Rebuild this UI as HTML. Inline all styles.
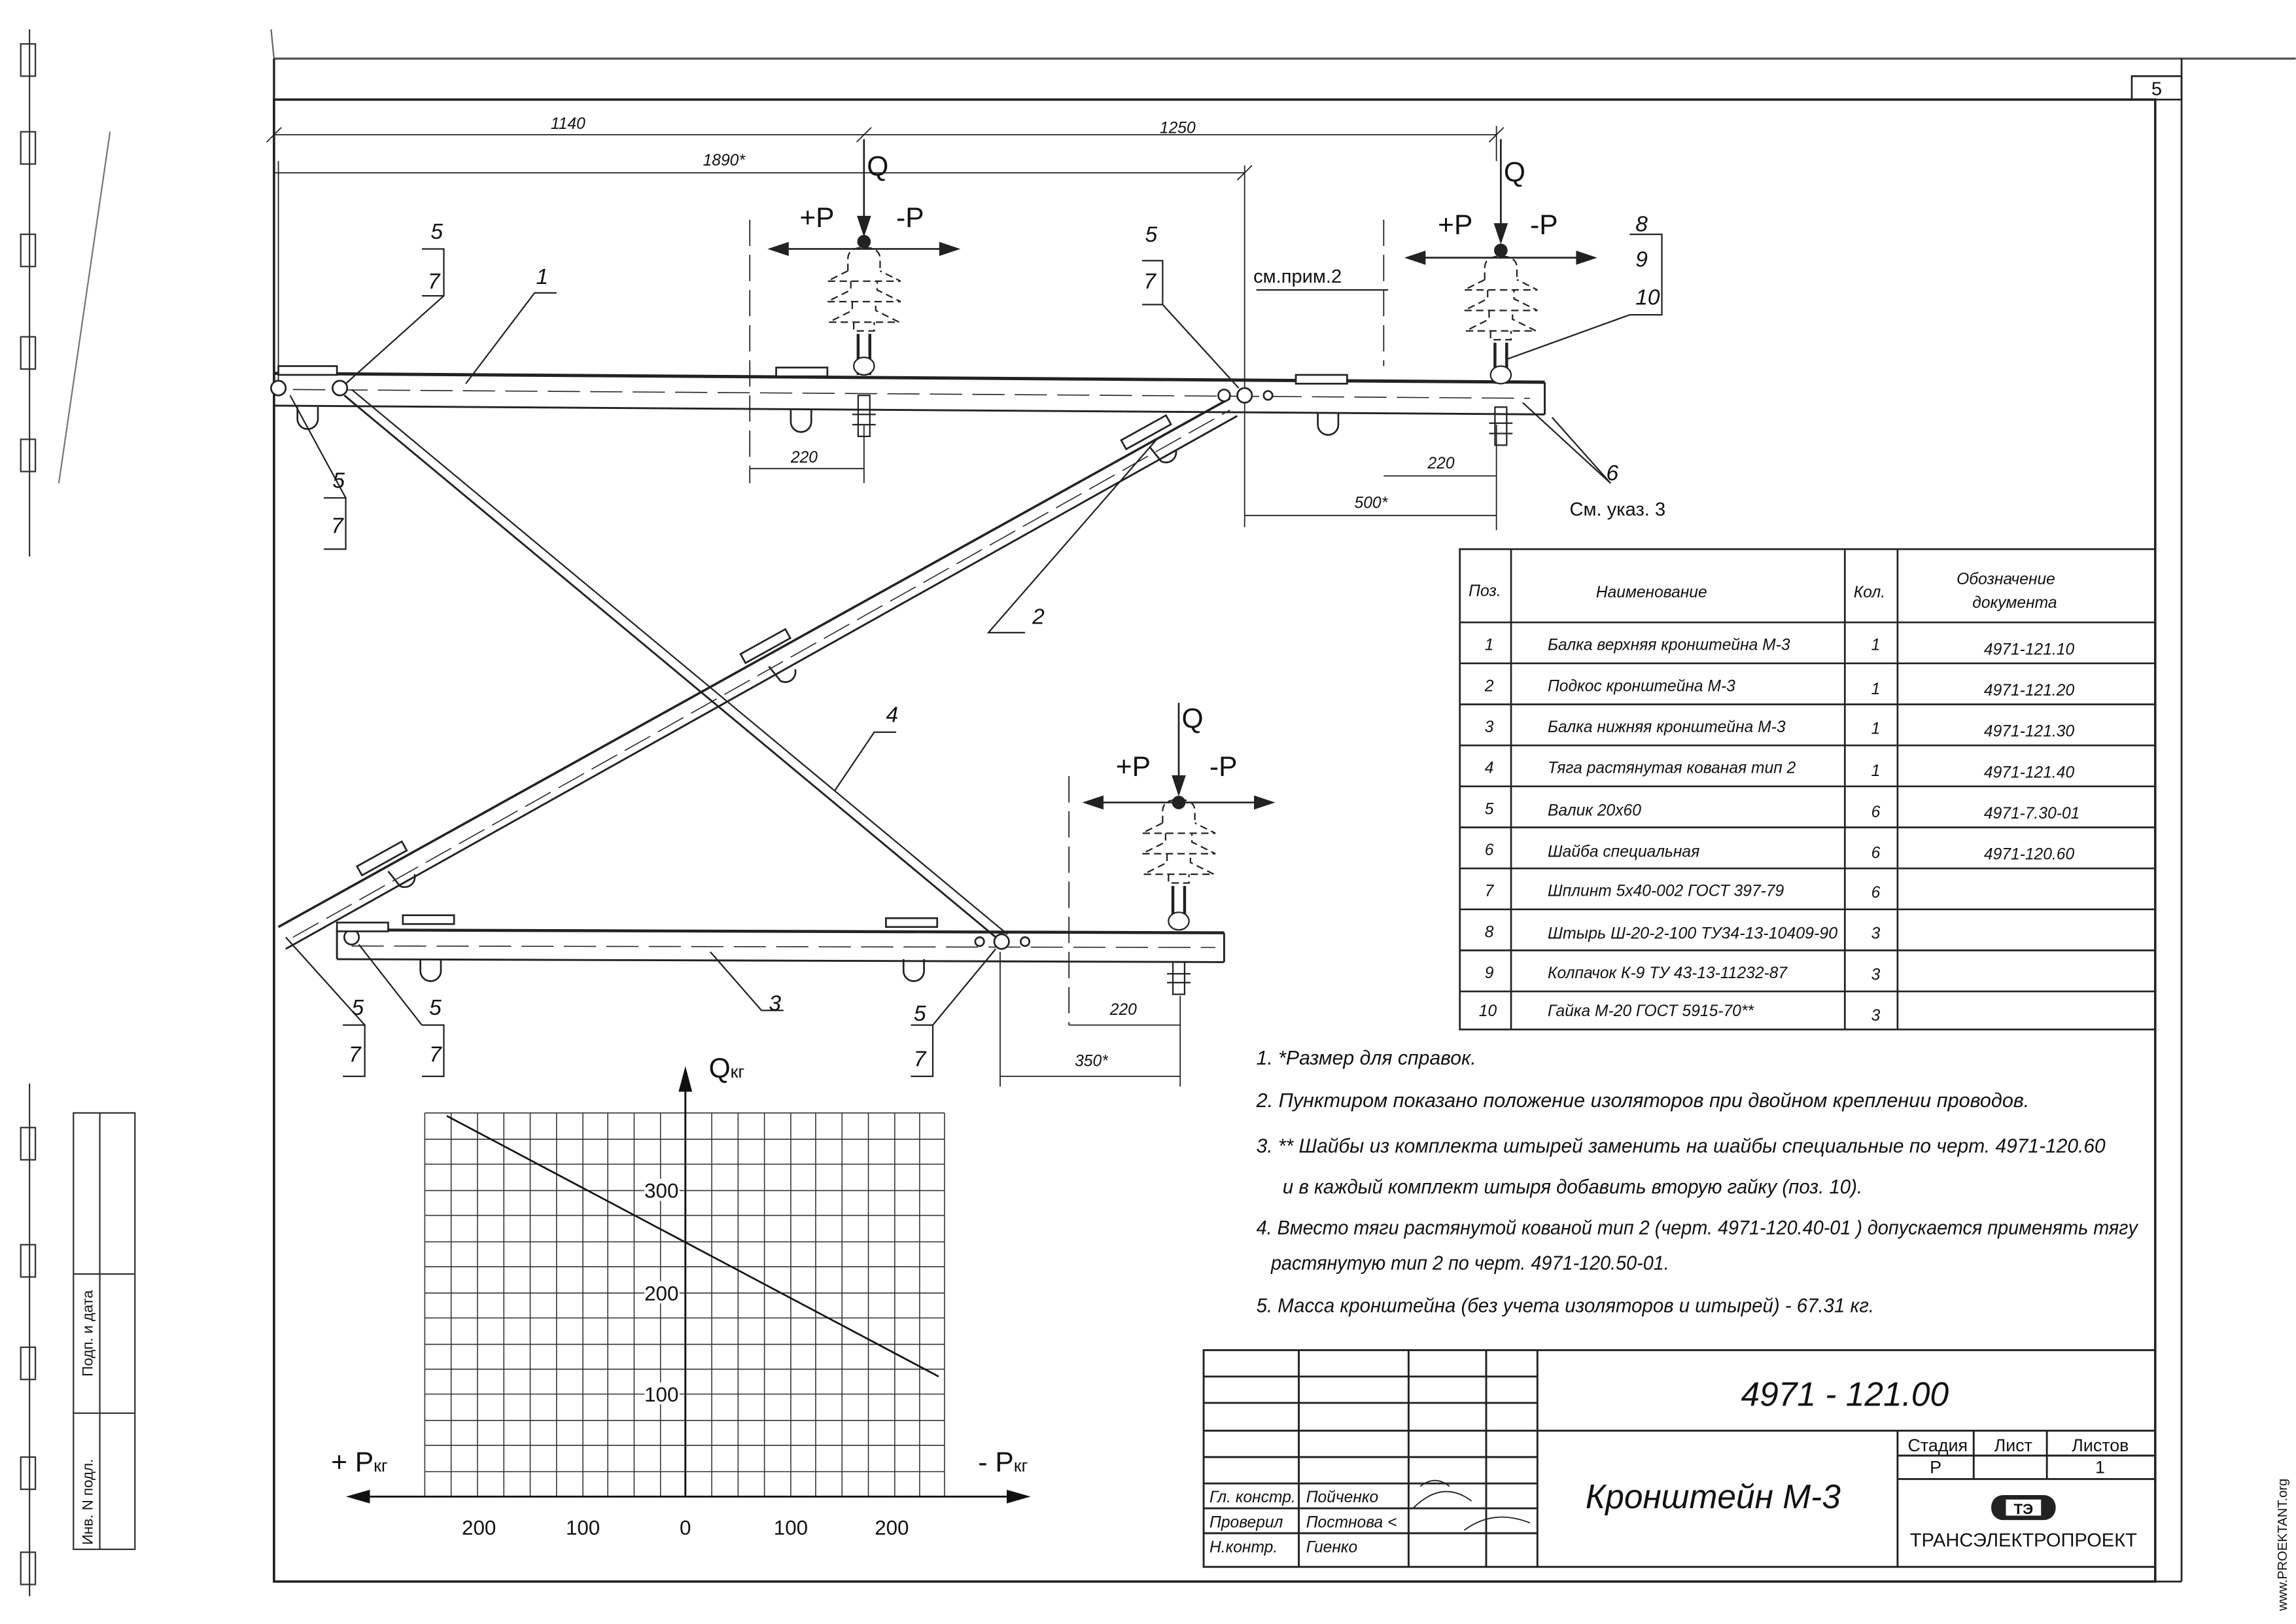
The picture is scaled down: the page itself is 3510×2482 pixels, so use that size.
<!DOCTYPE html>
<html><head><meta charset="utf-8"><style>
html,body{margin:0;padding:0;background:#fff;}
svg{display:block;}
text{font-family:"Liberation Sans",sans-serif;fill:#111;}
</style></head><body>
<svg width="3510" height="2482" viewBox="0 0 1568 1109" xmlns="http://www.w3.org/2000/svg">
<defs>
<g id="insul" stroke="#222" fill="none" stroke-width="1">
<path d="M-11 185 v-8 q0 -8 11 -8 q11 0 11 8 v8 M-11 185 l-14 7 h50 l-14 -7 M-9 192 v6 l-16 8 h50 l-16 -8 v-6 M-8 206 v6 l-16 8 h48 l-16 -8 v-6 M-7 220 v6 h14 v-6" stroke-dasharray="5 3"/>
</g>
</defs>
<rect width="1568" height="1109" fill="#fff"/>
<g stroke="#222" fill="none">
<line x1="187" y1="40" x2="1568" y2="40" stroke-width="1.5" stroke="#555"/>
<rect x="187" y="68" width="1285" height="1012" stroke-width="1.6"/>
<line x1="187" y1="40" x2="187" y2="1080" stroke-width="1.5"/>
<line x1="1490" y1="40" x2="1490" y2="1080" stroke-width="1.2"/>
<line x1="1472" y1="1080" x2="1490" y2="1080" stroke-width="1.2"/>
<rect x="1456" y="52" width="34" height="16" stroke-width="1.2"/>
</g>
<text x="1473" y="65" font-size="13" text-anchor="middle">5</text>
<g stroke="#333" fill="none" stroke-width="1">
<line x1="20" y1="20" x2="20" y2="380"/><line x1="20" y1="740" x2="20" y2="1090"/>
<rect x="14" y="30" width="10" height="22"/><rect x="14" y="90" width="10" height="22"/><rect x="14" y="160" width="10" height="22"/><rect x="14" y="230" width="10" height="22"/><rect x="14" y="300" width="10" height="22"/>
<rect x="14" y="770" width="10" height="22"/><rect x="14" y="850" width="10" height="22"/><rect x="14" y="920" width="10" height="22"/><rect x="14" y="995" width="10" height="22"/><rect x="14" y="1060" width="10" height="22"/>
<rect x="50" y="760" width="42" height="298"/>
<line x1="68" y1="760" x2="68" y2="1058"/>
<line x1="50" y1="870" x2="92" y2="870"/><line x1="50" y1="965" x2="92" y2="965"/>
<line x1="185" y1="20" x2="187" y2="40" stroke="#666"/>
<line x1="40" y1="330" x2="75" y2="90" stroke="#777"/>
</g>
<text transform="translate(63,940) rotate(-90)" font-size="10">Подп. и дата</text>
<text transform="translate(63,1055) rotate(-90)" font-size="10">Инв. N подл.</text>
<text transform="translate(1562,1100) rotate(-90)" font-size="9" fill="#777">www.PROEKTANT.org</text>

<g stroke="#222" stroke-width="0.8" fill="none">
<line x1="187" y1="92" x2="1022" y2="92"/>
<line x1="187" y1="118" x2="850" y2="118"/>
<line x1="585" y1="97" x2="595" y2="87"/><line x1="1017" y1="97" x2="1027" y2="87"/>
<line x1="845" y1="123" x2="855" y2="113"/><line x1="182" y1="97" x2="192" y2="87"/>
<line x1="1022" y1="86" x2="1022" y2="110"/>
<line x1="850" y1="113" x2="850" y2="360"/>
<line x1="190" y1="110" x2="190" y2="260"/>
<line x1="512" y1="150" x2="512" y2="330" stroke-dasharray="18 6"/>
<line x1="945" y1="150" x2="945" y2="250" stroke-dasharray="18 6"/>
<line x1="730" y1="530" x2="730" y2="700" stroke-dasharray="18 6"/>
<line x1="512" y1="320" x2="590" y2="320"/><line x1="590" y1="290" x2="590" y2="330"/>
<line x1="945" y1="325" x2="1022" y2="325"/><line x1="1022" y1="290" x2="1022" y2="362"/>
<line x1="850" y1="352" x2="1022" y2="352"/>
<line x1="730" y1="700" x2="806" y2="700"/><line x1="806" y1="680" x2="806" y2="742"/>
<line x1="683" y1="735" x2="806" y2="735"/><line x1="683" y1="650" x2="683" y2="742"/>
</g>
<g font-size="11" font-style="italic">
<text x="376" y="88">1140</text>
<text x="792" y="91">1250</text>
<text x="480" y="113">1890*</text>
<text x="540" y="316">220</text>
<text x="975" y="320">220</text>
<text x="925" y="347">500*</text>
<text x="758" y="693">220</text>
<text x="734" y="728">350*</text>
</g>

<g stroke="#222" fill="none">
<line x1="190" y1="633" x2="840" y2="272" stroke-width="1.6"/>
<line x1="195" y1="648" x2="845" y2="284" stroke-width="1.3"/>
<line x1="200" y1="640" x2="840" y2="280" stroke-width="0.7" stroke-dasharray="20 6"/>
<line x1="235" y1="270" x2="680" y2="640" stroke-width="1.3"/>
<line x1="240" y1="266" x2="688" y2="638" stroke-width="1"/>
</g>
<g stroke="#222" fill="none">
<line x1="187" y1="255" x2="1055" y2="261" stroke-width="2.2"/>
<line x1="187" y1="277" x2="1055" y2="283" stroke-width="1.3"/>
<line x1="1055" y1="261" x2="1055" y2="283" stroke-width="1.3"/>
<line x1="200" y1="266" x2="1045" y2="272" stroke-width="0.7" stroke-dasharray="22 7"/>
<line x1="230" y1="635" x2="836" y2="637" stroke-width="2"/>
<line x1="230" y1="655" x2="836" y2="657" stroke-width="1.3"/>
<line x1="836" y1="637" x2="836" y2="657" stroke-width="1.3"/>
<line x1="230" y1="635" x2="230" y2="655" stroke-width="1.3"/>
<line x1="240" y1="646" x2="830" y2="647" stroke-width="0.7" stroke-dasharray="22 7"/>
</g>
<g stroke="#222" fill="#fff" stroke-width="1.2">
<circle cx="190" cy="265" r="5"/><circle cx="232" cy="265" r="5"/>
<circle cx="836" cy="270" r="4"/><circle cx="850" cy="270" r="5"/><circle cx="866" cy="270" r="3"/>
<circle cx="240" cy="640" r="5"/><circle cx="669" cy="643" r="3"/><circle cx="684" cy="643" r="5"/><circle cx="700" cy="643" r="3"/>
<rect x="190" y="250" width="40" height="6"/><rect x="530" y="251" width="35" height="6"/><rect x="885" y="256" width="35" height="6"/>
<rect x="230" y="630" width="35" height="6"/><rect x="275" y="625" width="35" height="6"/><rect x="605" y="627" width="35" height="6"/>
<path d="M203 278 v8 a7 7 0 0 0 14 0 v-8" fill="none"/>
<path d="M540 280 v8 a7 7 0 0 0 14 0 v-8" fill="none"/>
<path d="M900 282 v8 a7 7 0 0 0 14 0 v-8" fill="none"/>
<path d="M287 655 v8 a7 7 0 0 0 14 0 v-8" fill="none"/>
<path d="M617 655 v8 a7 7 0 0 0 14 0 v-8" fill="none"/>
<path d="M785 305 l8 10 a7 7 0 0 0 10 -8" fill="none"/>
<path d="M525 455 l8 10 a7 7 0 0 0 10 -8" fill="none"/>
<path d="M265 595 l8 10 a7 7 0 0 0 10 -8" fill="none"/>
<rect x="765" y="292" width="35" height="7" transform="rotate(-29 782 295)"/>
<rect x="505" y="438" width="35" height="7" transform="rotate(-29 522 441)"/>
<rect x="243" y="583" width="35" height="7" transform="rotate(-29 260 586)"/>
</g>
<g stroke="#222" fill="none" stroke-width="1">
<g transform="translate(590,0)">
<use href="#insul"/>
<line x1="-4" y1="228" x2="-4" y2="256" stroke-width="2"/><line x1="4" y1="228" x2="4" y2="256" stroke-width="2"/>
<ellipse cx="0" cy="250" rx="7" ry="6" fill="#fff"/>
<rect x="-4" y="270" width="8" height="28"/>
<line x1="-8" y1="283" x2="8" y2="283"/><line x1="-8" y1="290" x2="8" y2="290"/>
</g>
<g transform="translate(1025,6)">
<use href="#insul"/>
<line x1="-4" y1="228" x2="-4" y2="256" stroke-width="2"/><line x1="4" y1="228" x2="4" y2="256" stroke-width="2"/>
<ellipse cx="0" cy="250" rx="7" ry="6" fill="#fff"/>
<rect x="-4" y="272" width="8" height="26"/>
<line x1="-8" y1="283" x2="8" y2="283"/><line x1="-8" y1="290" x2="8" y2="290"/>
</g>
<g transform="translate(805,377)">
<use href="#insul"/>
<line x1="-4" y1="228" x2="-4" y2="256" stroke-width="2"/><line x1="4" y1="228" x2="4" y2="256" stroke-width="2"/>
<ellipse cx="0" cy="252" rx="7" ry="6" fill="#fff"/>
<rect x="-4" y="280" width="8" height="22"/>
<line x1="-8" y1="288" x2="8" y2="288"/><line x1="-8" y1="294" x2="8" y2="294"/>
</g>
</g>
<g stroke="#222" stroke-width="1.2" fill="#222">
<line x1="590" y1="95" x2="590" y2="155"/><path d="M586 148 L590 160 L594 148 Z"/>
<line x1="530" y1="170" x2="650" y2="170"/><path d="M538 166 L526 170 L538 174 Z"/><path d="M642 166 L654 170 L642 174 Z"/>
<circle cx="590" cy="165" r="4"/>
<line x1="1025" y1="95" x2="1025" y2="160"/><path d="M1021 153 L1025 165 L1029 153 Z"/>
<line x1="965" y1="176" x2="1085" y2="176"/><path d="M973 172 L961 176 L973 180 Z"/><path d="M1077 172 L1089 176 L1077 180 Z"/>
<circle cx="1025" cy="171" r="4"/>
<line x1="805" y1="480" x2="805" y2="538"/><path d="M801 530 L805 542 L809 530 Z"/>
<line x1="745" y1="548" x2="865" y2="548"/><path d="M753 544 L741 548 L753 552 Z"/><path d="M857 544 L869 548 L857 552 Z"/>
<circle cx="805" cy="548" r="4"/>
</g>
<g font-size="19">
<text x="592" y="120">Q</text><text x="546" y="155">+P</text><text x="612" y="155">-P</text>
<text x="1027" y="124">Q</text><text x="982" y="160">+P</text><text x="1045" y="160">-P</text>
<text x="807" y="497">Q</text><text x="762" y="530">+P</text><text x="826" y="530">-P</text>
</g>
<g stroke="#222" fill="none" stroke-width="1">
<path d="M288 170 h15 v32 h-15 M303 202 L236 262"/>
<path d="M380 200 h-15 L318 262"/>
<path d="M221 340 h15 v35 h-15 M236 340 L198 270"/>
<path d="M780 178 h14 v30 h-14 M794 208 L846 265"/>
<path d="M1113 160 h22 v55 h-22 M1113 215 L1030 245"/>
<path d="M1100 330 L1040 275 M1100 330 L1060 285"/>
<path d="M700 432 h-25 L790 300"/>
<path d="M612 500 h-15 L570 540"/>
<path d="M520 690 h15 M520 690 L485 650"/>
<path d="M234 700 h15 v35 h-15 M249 700 L195 640"/>
<path d="M288 700 h15 v35 h-15 M288 700 L245 645"/>
<path d="M622 700 h15 v35 h-15 M637 700 L680 648"/>
<path d="M858 198 h90"/>
</g>
<g font-size="15" font-style="italic">
<text x="294" y="163">5</text><text x="292" y="197">7</text>
<text x="366" y="194">1</text>
<text x="227" y="333">5</text><text x="226" y="364">7</text>
<text x="782" y="165">5</text><text x="781" y="197">7</text>
<text x="1117" y="158">8</text><text x="1117" y="182">9</text><text x="1117" y="208">10</text>
<text x="1097" y="328">6</text>
<text x="705" y="426">2</text>
<text x="605" y="493">4</text>
<text x="525" y="690">3</text>
<text x="240" y="693">5</text><text x="238" y="725">7</text>
<text x="293" y="693">5</text><text x="293" y="725">7</text>
<text x="624" y="697">5</text><text x="624" y="728">7</text>
</g>
<text x="856" y="193" font-size="13">см.прим.2</text>
<text x="1072" y="352" font-size="13">См. указ. 3</text>

<g stroke="#222" fill="none" stroke-width="1.2">
<rect x="997" y="375" width="475" height="328"/>
<line x1="1032" y1="375" x2="1032" y2="703"/><line x1="1260" y1="375" x2="1260" y2="703"/><line x1="1296" y1="375" x2="1296" y2="703"/>
<line x1="997" y1="425" x2="1472" y2="425"/><line x1="997" y1="453" x2="1472" y2="453"/><line x1="997" y1="481" x2="1472" y2="481"/>
<line x1="997" y1="509" x2="1472" y2="509"/><line x1="997" y1="537" x2="1472" y2="537"/><line x1="997" y1="565" x2="1472" y2="565"/>
<line x1="997" y1="593" x2="1472" y2="593"/><line x1="997" y1="621" x2="1472" y2="621"/><line x1="997" y1="649" x2="1472" y2="649"/>
<line x1="997" y1="677" x2="1472" y2="677"/>
</g>
<g font-size="11" font-style="italic">
<text x="1003" y="407">Поз.</text><text x="1090" y="408">Наименование</text><text x="1266" y="408">Кол.</text>
<text x="1370" y="399" text-anchor="middle">Обозначение</text><text x="1376" y="415" text-anchor="middle">документа</text>
<text x="1014" y="444">1</text><text x="1057" y="444">Балка верхняя кронштейна М-3</text><text x="1278" y="444">1</text><text x="1355" y="447">4971-121.10</text>
<text x="1014" y="472">2</text><text x="1057" y="472">Подкос кронштейна М-3</text><text x="1278" y="474">1</text><text x="1355" y="475">4971-121.20</text>
<text x="1014" y="500">3</text><text x="1057" y="500">Балка нижняя кронштейна М-3</text><text x="1278" y="501">1</text><text x="1355" y="503">4971-121.30</text>
<text x="1014" y="528">4</text><text x="1057" y="528">Тяга растянутая кованая тип 2</text><text x="1278" y="530">1</text><text x="1355" y="531">4971-121.40</text>
<text x="1014" y="556">5</text><text x="1057" y="557">Валик 20х60</text><text x="1278" y="558">6</text><text x="1355" y="559">4971-7.30-01</text>
<text x="1014" y="584">6</text><text x="1057" y="585">Шайба специальная</text><text x="1278" y="586">6</text><text x="1355" y="587">4971-120.60</text>
<text x="1014" y="612">7</text><text x="1057" y="612">Шплинт 5х40-002 ГОСТ 397-79</text><text x="1278" y="613">6</text>
<text x="1014" y="640">8</text><text x="1057" y="641" textLength="198" lengthAdjust="spacingAndGlyphs">Штырь Ш-20-2-100 ТУ34-13-10409-90</text><text x="1278" y="641">3</text>
<text x="1014" y="668">9</text><text x="1057" y="668">Колпачок К-9 ТУ 43-13-11232-87</text><text x="1278" y="669">3</text>
<text x="1010" y="694">10</text><text x="1057" y="694">Гайка М-20 ГОСТ 5915-70**</text><text x="1278" y="697">3</text>
</g>
<g font-size="13.5" font-style="italic">
<text x="858" y="727">1. *Размер для справок.</text>
<text x="858" y="756" textLength="528" lengthAdjust="spacingAndGlyphs">2. Пунктиром показано положение изоляторов при двойном креплении проводов.</text>
<text x="858" y="787" textLength="580" lengthAdjust="spacingAndGlyphs">3. ** Шайбы из комплекта штырей заменить на шайбы специальные по черт. 4971-120.60</text>
<text x="876" y="815" textLength="396" lengthAdjust="spacingAndGlyphs">и в каждый комплект штыря добавить вторую гайку (поз. 10).</text>
<text x="858" y="843" textLength="602" lengthAdjust="spacingAndGlyphs">4. Вместо тяги растянутой кованой тип 2 (черт. 4971-120.40-01 ) допускается применять тягу</text>
<text x="868" y="867" textLength="272" lengthAdjust="spacingAndGlyphs">растянутую тип 2 по черт. 4971-120.50-01.</text>
<text x="858" y="896" textLength="422" lengthAdjust="spacingAndGlyphs">5. Масса кронштейна (без учета изоляторов и штырей) - 67.31 кг.</text>
</g>
<g stroke="#333" stroke-width="0.7" fill="none">
<path d="M290 760V1022M308 760V1022M326 760V1022M344 760V1022M362 760V1022M380 760V1022M398 760V1022M415 760V1022M433 760V1022M451 760V1022M486 760V1022M504 760V1022M522 760V1022M540 760V1022M557 760V1022M575 760V1022M593 760V1022M611 760V1022M628 760V1022M645 760V1022"/>
<path d="M290 760H645M290 778H645M290 795H645M290 813H645M290 830H645M290 848H645M290 865H645M290 883H645M290 900H645M290 918H645M290 935H645M290 952H645M290 970H645M290 987H645M290 1005H645"/>
</g>
<g stroke="#111" fill="#111">
<line x1="468" y1="735" x2="468" y2="1022" stroke-width="1.3"/><path d="M464 745 L468 730 L472 745 Z"/>
<line x1="240" y1="1022" x2="700" y2="1022" stroke-width="1.3"/>
<path d="M252 1018 L238 1022 L252 1026 Z"/><path d="M688 1018 L702 1022 L688 1026 Z"/>
<line x1="305" y1="762" x2="641" y2="940" stroke-width="1.2"/>
</g>
<g font-size="14">
<rect x="440" y="805" width="24" height="15" fill="#fff"/><text x="440" y="818">300</text>
<rect x="440" y="875" width="24" height="15" fill="#fff"/><text x="440" y="888">200</text>
<rect x="440" y="944" width="24" height="15" fill="#fff"/><text x="440" y="957">100</text>
<text x="327" y="1048" text-anchor="middle">200</text><text x="398" y="1048" text-anchor="middle">100</text><text x="468" y="1048" text-anchor="middle">0</text>
<text x="540" y="1048" text-anchor="middle">100</text><text x="609" y="1048" text-anchor="middle">200</text>
</g>
<text x="484" y="736" font-size="19">Q<tspan font-size="12">кг</tspan></text>
<text x="226" y="1005" font-size="19">+ P<tspan font-size="12">кг</tspan></text>
<text x="668" y="1005" font-size="19">- P<tspan font-size="12">кг</tspan></text>
<g stroke="#222" fill="none" stroke-width="1.3">
<rect x="822" y="922" width="650" height="148"/>
<line x1="1050" y1="922" x2="1050" y2="1070"/>
<line x1="887" y1="922" x2="887" y2="1070"/><line x1="962" y1="922" x2="962" y2="1070"/><line x1="1015" y1="922" x2="1015" y2="1070"/>
<line x1="822" y1="940" x2="1050" y2="940"/><line x1="822" y1="958" x2="1050" y2="958"/><line x1="822" y1="977" x2="1050" y2="977"/>
<line x1="822" y1="995" x2="1050" y2="995"/><line x1="822" y1="1013" x2="1050" y2="1013"/><line x1="822" y1="1030" x2="1050" y2="1030"/>
<line x1="822" y1="1047" x2="1050" y2="1047"/>
<line x1="1050" y1="977" x2="1472" y2="977"/>
<line x1="1296" y1="977" x2="1296" y2="1070"/><line x1="1348" y1="977" x2="1348" y2="1010"/><line x1="1398" y1="977" x2="1398" y2="1010"/>
<line x1="1296" y1="994" x2="1472" y2="994"/><line x1="1296" y1="1010" x2="1472" y2="1010"/>
<path d="M965 1030 q20 -20 40 -5 M1000 1045 q20 -15 45 -5 M970 1015 q10 -8 20 0" stroke-width="0.8"/>
</g>
<text x="1260" y="960" font-size="23" font-style="italic" text-anchor="middle">4971  -  121.00</text>
<text x="1170" y="1030" font-size="23" font-style="italic" text-anchor="middle">Кронштейн М-3</text>
<g font-size="12">
<text x="1303" y="991">Стадия</text><text x="1362" y="991">Лист</text><text x="1415" y="991">Листов</text>
<text x="1318" y="1006">Р</text><text x="1431" y="1006">1</text>
</g>
<g font-size="11" font-style="italic">
<text x="826" y="1026">Гл. констр.</text><text x="892" y="1026">Пойченко</text>
<text x="826" y="1043">Проверил</text><text x="892" y="1043">Постнова &lt;</text>
<text x="826" y="1060">Н.контр.</text><text x="892" y="1060">Гиенко</text>
</g>
<rect x="1360" y="1021" width="44" height="17" rx="8" fill="#222"/>
<rect x="1370" y="1024" width="24" height="11" fill="#fff"/>
<text x="1382" y="1034" font-size="10" text-anchor="middle" font-weight="bold">ТЭ</text>
<text x="1382" y="1056" font-size="13" text-anchor="middle">ТРАНСЭЛЕКТРОПРОЕКТ</text>
</svg>
</body></html>
